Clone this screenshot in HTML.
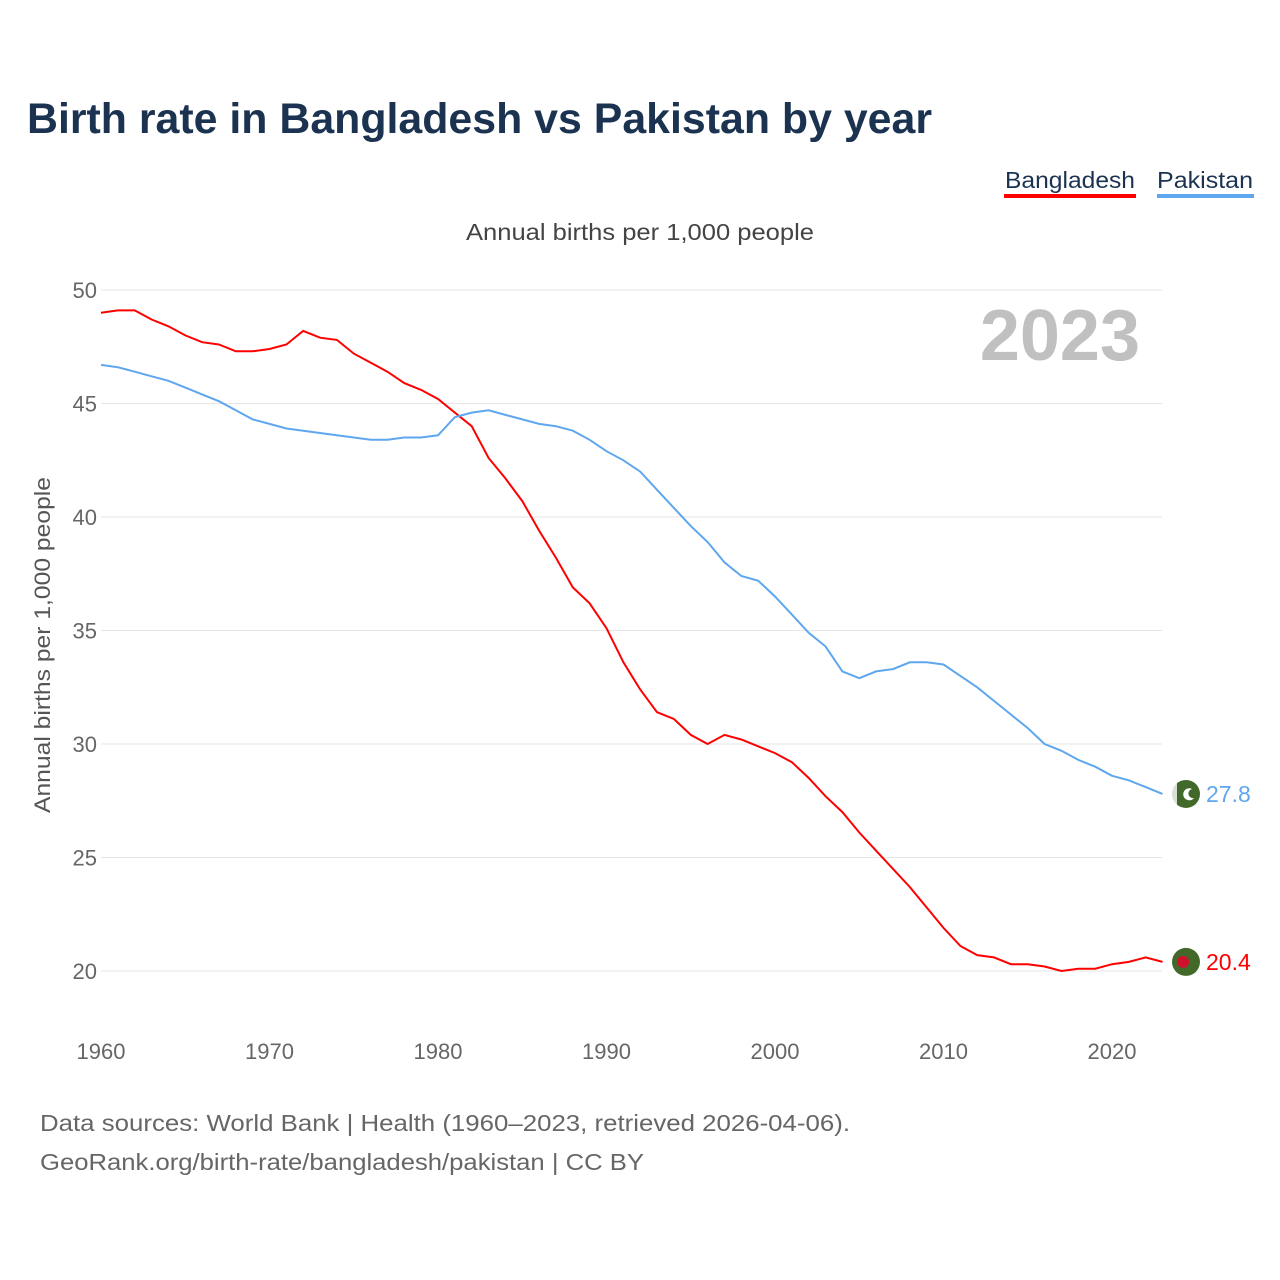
<!DOCTYPE html>
<html><head><meta charset="utf-8"><style>
body{margin:0;background:#fff;font-family:"Liberation Sans",sans-serif;}
svg{display:block}
</style></head><body>
<svg width="1280" height="1280" id="chart">
<text x="27" y="133" font-size="43" font-weight="bold" fill="#1b3350" textLength="905" lengthAdjust="spacingAndGlyphs">Birth rate in Bangladesh vs Pakistan by year</text>
<g>
<text x="1135" y="188" font-size="23" fill="#1b3350" text-anchor="end" textLength="130" lengthAdjust="spacingAndGlyphs">Bangladesh</text>
<rect x="1004" y="194" width="132" height="4" fill="#ff0000"/>
<text x="1253" y="188" font-size="23" fill="#1b3350" text-anchor="end" textLength="96" lengthAdjust="spacingAndGlyphs">Pakistan</text>
<rect x="1157" y="194" width="97" height="4" fill="#5ea7ee"/>
</g>
<text x="466" y="240" font-size="23" fill="#444" textLength="348" lengthAdjust="spacingAndGlyphs">Annual births per 1,000 people</text>
<text x="1140" y="360" font-size="72" font-weight="bold" fill="#c0c0c0" text-anchor="end">2023</text>
<text transform="translate(50,645) rotate(-90)" font-size="22" fill="#555" text-anchor="middle" textLength="336" lengthAdjust="spacingAndGlyphs">Annual births per 1,000 people</text>
<g id="grid"></g><g id="lines"></g><g id="labels"></g>
<text x="40" y="1131" font-size="23" fill="#666" textLength="810" lengthAdjust="spacingAndGlyphs">Data sources: World Bank | Health (1960–2023, retrieved 2026-04-06).</text>
<text x="40" y="1170" font-size="23" fill="#666" textLength="604" lengthAdjust="spacingAndGlyphs">GeoRank.org/birth-rate/bangladesh/pakistan | CC BY</text>
</svg>
<script>
const years=[];for(let y=1960;y<=2023;y++)years.push(y);
const bangladesh=[49.0,49.1,49.1,48.7,48.4,48.0,47.7,47.6,47.3,47.3,47.4,47.6,48.2,47.9,47.8,47.2,46.8,46.4,45.9,45.6,45.2,44.6,44.0,42.6,41.7,40.7,39.4,38.2,36.9,36.2,35.1,33.6,32.4,31.4,31.1,30.4,30.0,30.4,30.2,29.9,29.6,29.2,28.5,27.7,27.0,26.1,25.3,24.5,23.7,22.8,21.9,21.1,20.7,20.6,20.3,20.3,20.2,20.0,20.1,20.1,20.3,20.4,20.6,20.4];
const pakistan=[46.7,46.6,46.4,46.2,46.0,45.7,45.4,45.1,44.7,44.3,44.1,43.9,43.8,43.7,43.6,43.5,43.4,43.4,43.5,43.5,43.6,44.4,44.6,44.7,44.5,44.3,44.1,44.0,43.8,43.4,42.9,42.5,42.0,41.2,40.4,39.6,38.9,38.0,37.4,37.2,36.5,35.7,34.9,34.3,33.2,32.9,33.2,33.3,33.6,33.6,33.5,33.0,32.5,31.9,31.3,30.7,30.0,29.7,29.3,29.0,28.6,28.4,28.1,27.8];
const yTicks=[20,25,30,35,40,45,50];
const xTicks=[1960,1970,1980,1990,2000,2010,2020];
const X=v=>101+(v-1960)*1011/60, Y=v=>971-(v-20)*681/30;
const NS="http://www.w3.org/2000/svg";
function mk(t,a,p){const e=document.createElementNS(NS,t);for(const k in a)e.setAttribute(k,a[k]);p.appendChild(e);return e;}
const g=document.getElementById('grid');
yTicks.forEach(v=>{
 const l=mk('line',{x1:101,x2:1162,y1:Y(v),y2:Y(v),stroke:'#e6e6e6','stroke-width':1},g);
 
 
 const t=mk('text',{x:97,y:Y(v)+8,'font-size':22,fill:'#666','text-anchor':'end'},g);t.textContent=v;
 
 
});
xTicks.forEach(v=>{
 const t=mk('text',{x:X(v),y:1059,'font-size':22,fill:'#666','text-anchor':'middle'},g);t.textContent=v;
 
 
});
const L=document.getElementById('lines'),lb=document.getElementById('labels');
[[bangladesh,'#ff0000','bangladesh'],[pakistan,'#5ea7ee','pakistan']].forEach(([d,c,n])=>{
 const p=mk('path',{d:d.map((v,i)=>(i?'L':'M')+X(years[i]).toFixed(1)+','+Y(v).toFixed(1)).join(''),fill:'none',stroke:c,'stroke-width':2},L);
 
 
 const last=d[d.length-1],cy=Y(last);
 const f=mk('circle',{cx:1186,cy:cy,r:14,fill:'#43692a'},lb);
 
 
 if(n==='bangladesh'){
  const fd=mk('circle',{cx:1183,cy:cy,r:6,fill:'#d0112b'},lb);
  
  
 }else{
  const w=mk('rect',{x:1172,y:cy-14,width:5,height:28,fill:'#fff',opacity:0.8},lb);
  
  
  const cr=mk('path',{d:`M${1192},${cy-5} a6,6 0 1,0 2,9 a4.5,4.5 0 1,1 -2,-9z`,fill:'#fff'},lb);
  
  
 }
 const t=mk('text',{x:1206,y:cy+8,'font-size':23,fill:c},lb);t.textContent=last.toFixed(1);
 
 
});
</script>
</body></html>
